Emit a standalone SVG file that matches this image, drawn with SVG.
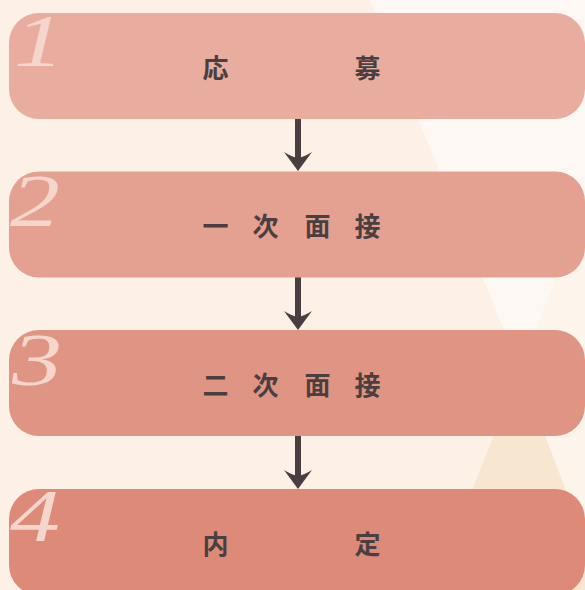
<svg xmlns="http://www.w3.org/2000/svg" width="585" height="590" viewBox="0 0 585 590">
  <defs>
    <style>
      .lbl { font-family: "Noto Sans CJK JP", "Noto Sans CJK SC", sans-serif; font-size: 26px; font-weight: bold; fill: #4a3f40; text-anchor: middle; }
      .num { font-family: "Liberation Serif", "DejaVu Serif", serif; font-style: italic; font-size: 74px; fill: #f5d6cc; }
      .shaft { stroke: #4a3f40; stroke-width: 6; fill: none; }
      .head { fill: #4a3f40; }
    </style>
  </defs>
  <g id="background">
    <rect x="0" y="0" width="585" height="590" fill="#fdf0e6"/>
    <polygon points="370,0 668,0 520,370" fill="#fef8f4"/>
    <polygon points="585,207 520,370 585,540" fill="#fdf5eb"/>
    <polygon points="520,370 432,590 604,590" fill="#f8e7d0"/>
  </g>
  <g id="connectors">
    <line class="shaft" x1="298" y1="119" x2="298" y2="160"/>
    <path class="head" d="M298,171 L284,152 Q292,157 298,158 Q304,157 312,152 Z"/>
    <line class="shaft" x1="298" y1="277" x2="298" y2="319"/>
    <path class="head" d="M298,330 L284,311 Q292,316 298,317 Q304,316 312,311 Z"/>
    <line class="shaft" x1="298" y1="436" x2="298" y2="478"/>
    <path class="head" d="M298,489 L284,470 Q292,475 298,476 Q304,475 312,470 Z"/>
  </g>
  <g id="step1">
    <rect x="9" y="13" width="576" height="106" rx="30" ry="30" fill="#e9ad9f"/>
    <text class="num" transform="translate(14,66) scale(1.35,1)">1</text>
    <text class="lbl" x="215.5" y="78">応</text>
    <text class="lbl" x="367.5" y="78">募</text>
  </g>
  <g id="step2">
    <rect x="9" y="171.5" width="576" height="106" rx="30" ry="30" fill="#e4a191"/>
    <text class="num" transform="translate(10,226) scale(1.35,1)">2</text>
    <text class="lbl" x="215.5" y="236">一</text>
    <text class="lbl" x="265.5" y="236">次</text>
    <text class="lbl" x="317.5" y="236">面</text>
    <text class="lbl" x="367.5" y="236">接</text>
  </g>
  <g id="step3">
    <rect x="9" y="330" width="576" height="106" rx="30" ry="30" fill="#e09584"/>
    <text class="num" transform="translate(12,385) scale(1.35,1)">3</text>
    <text class="lbl" x="215.5" y="395">二</text>
    <text class="lbl" x="265.5" y="395">次</text>
    <text class="lbl" x="317.5" y="395">面</text>
    <text class="lbl" x="367.5" y="395">接</text>
  </g>
  <g id="step4">
    <rect x="9" y="489" width="576" height="106" rx="30" ry="30" fill="#dd8a79"/>
    <text class="num" transform="translate(10,541) scale(1.35,1)">4</text>
    <text class="lbl" x="215.5" y="554">内</text>
    <text class="lbl" x="367.5" y="554">定</text>
  </g>
</svg>
